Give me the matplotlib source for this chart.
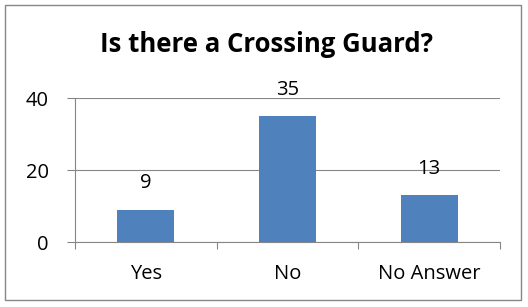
import matplotlib
matplotlib.use("Agg")
import matplotlib.pyplot as plt
from matplotlib.patches import Rectangle

categories = ["Yes", "No", "No Answer"]
values = [9, 35, 13]
yticks = [0, 20, 40]

plt.rcParams['font.family'] = ['Open Sans', 'DejaVu Sans']

W, H = 528, 307
fig = plt.figure(figsize=(W/100, H/100), dpi=100)
fig.patch.set_facecolor('white')

# outer border
fig.patches.append(Rectangle((5/W, 1 - 300/H), 516/W, 295/H, transform=fig.transFigure,
                             fill=False, edgecolor='#868686', linewidth=1.0))

x0, x1 = 75, 500
y0, y1 = 242, 98
ax = fig.add_axes([x0/W, 1 - y0/H, (x1-x0)/W, (y0-y1)/H])
ax.set_xlim(-0.5, 2.5)
ax.set_ylim(0, 40)

pos = list(range(len(categories)))
ax.bar(pos, values, width=0.4, color='#4F81BD', zorder=3)

for p, v in zip(pos, values):
    ax.annotate(str(v), (p, v), xytext=(0, 19), textcoords='offset points',
                ha='center', va='center', fontsize=14.5, color='black', zorder=4)

ax.set_yticks(yticks)
ax.set_yticklabels([str(t) for t in yticks], fontsize=14.5)
ax.grid(axis='y', color='#868686', linewidth=0.8, zorder=0)
ax.set_axisbelow(True)

ax.set_xticks([-0.5, 0.5, 1.5, 2.5])
ax.set_xticklabels([])
ax.set_xticks(pos, minor=True)
ax.set_xticklabels(categories, minor=True, fontsize=14.5)
ax.tick_params(axis='x', which='minor', length=0, pad=16)
ax.tick_params(axis='x', which='major', length=5, color='#868686', direction='out')
ax.tick_params(axis='y', length=6, color='#868686', direction='out', pad=13)

for s in ['top', 'right']:
    ax.spines[s].set_visible(False)
for s in ['left', 'bottom']:
    ax.spines[s].set_color('#868686')
    ax.spines[s].set_linewidth(0.8)

fig.text((97+435)/2/W, 1 - 45/H, "Is there a Crossing Guard?", ha='center', va='center',
         fontsize=18.5, fontweight='bold')

fig.savefig("out.png", dpi=100)
